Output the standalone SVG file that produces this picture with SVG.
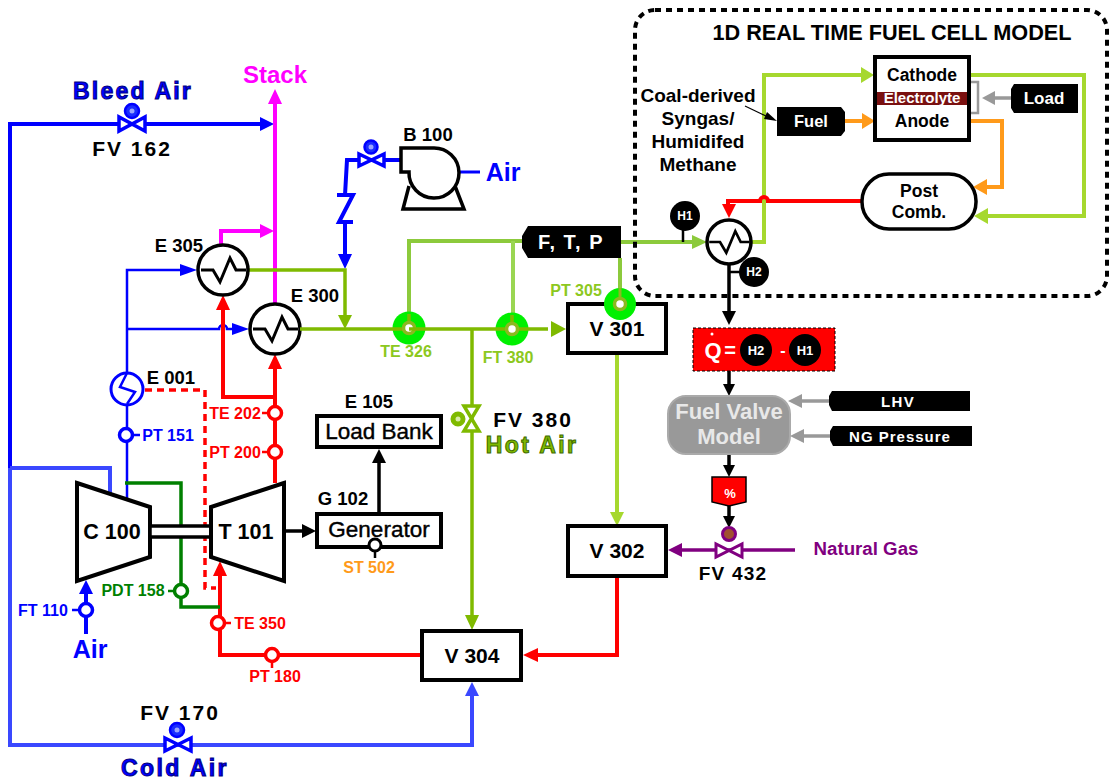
<svg xmlns="http://www.w3.org/2000/svg" width="1109" height="781" viewBox="0 0 1109 781">
<style>
text{font-family:"Liberation Sans",Arial,sans-serif;font-weight:bold;text-anchor:middle}
.ln{fill:none;stroke-linejoin:miter}
.box{fill:#fff;stroke:#000;stroke-width:4}
.hx{fill:#fff;stroke:#000;stroke-width:3.5}
.wave{fill:none;stroke:#000;stroke-width:3}
.b4{stroke:#0000ff;stroke-width:4}
.b3{stroke:#0000ff;stroke-width:2.5}
.lb{stroke:#3a48ff;stroke-width:4}
.m{stroke:#ff00ff;stroke-width:4}
.r{stroke:#ff0000;stroke-width:4}
.ol{stroke:#7fba00;stroke-width:3.5}
.lg{stroke:#8cca3c;stroke-width:4}
.yg{stroke:#a6d82e;stroke-width:4}
.dg{stroke:#008000;stroke-width:3.5}
.k{stroke:#000;stroke-width:3.5}
.o{stroke:#ff9a1a;stroke-width:4}
.g{stroke:#999;stroke-width:3.5}
.p{stroke:#800080;stroke-width:3.5}
.inst{fill:#fff;stroke-width:3.5}
.e{font-size:18.5px;fill:#000}
.i{font-size:16px}
.fv{font-size:21px;fill:#000;letter-spacing:2px}
.v{font-size:21px;fill:#000}
.sb{font-size:22.5px;font-weight:normal;fill:#000;stroke:#000;stroke-width:.4}
.hl{font-size:12px;fill:#fff}
.act{fill:#1a2cff;stroke:#0000ff;stroke-width:2.5}
.smile{fill:#9aa4ff}
.bow{fill:#fff;stroke:#0000ff;stroke-width:3.5}
.grn{fill:#00f000}
.ring{fill:#fff;stroke:#8cb820;stroke-width:3.5}
.air{font-size:25px;fill:#0000ff}
.lab{fill:#0000ff;stroke:#000080;stroke-width:1}
</style>
<defs>
<path id="wv" d="M-22 0H-10L-3 12L7 -12L13 0H23" class="wave"/>
</defs>

<g id="connectors">
<path class="ln b4" d="M10 468V124H262"/>
<path d="M274 124L260 117V131Z" fill="#0000ff"/>
<path class="ln lb" d="M10 468V745H472V694"/>
<path class="ln lb" d="M10 468H110V498"/>
<path d="M472 682L465 696H479Z" fill="#3a48ff"/>
<path class="ln m" d="M275 303V100"/>
<path d="M275 89L268 104H282Z" fill="#ff00ff"/>
<path class="ln m" d="M221 246V231H262"/>
<path d="M274 231L260 224V238Z" fill="#ff00ff"/>
<path class="ln b3" d="M127 500V270H185"/>
<path d="M197 270L180 264V276Z" fill="#0000ff"/>
<path class="ln b3" d="M127 329H219A4 4 0 0 1 227 329H238"/>
<path d="M249 329L232 323V335Z" fill="#0000ff"/>
<path class="ln b4" d="M400 160H347L345 195"/>
<path class="ln b4" d="M337 195H353L339 222H353M345 222V258"/>
<path d="M345 269L338 254H352Z" fill="#0000ff"/>
<path class="ln" stroke="#0000ff" stroke-width="3" d="M458 172H480"/>
<path class="ln ol" d="M248 270H345V318"/>
<path d="M345 329L338 315H352Z" fill="#7fba00"/>
<path class="ln ol" d="M472 329V618"/>
<path d="M472 630L465 615H479Z" fill="#7fba00"/>
<path class="ln lg" d="M409 328V241H522"/>
<path class="ln" stroke="#9ad652" stroke-width="4" d="M513 241V320"/>
<path class="ln lg" stroke-width="3" d="M620 258V300"/>
<path class="ln lg" d="M621 242H695"/>
<path d="M707 242L692 235V249Z" fill="#8cca3c"/>
<path class="ln yg" d="M617 353V516"/>
<path d="M617 526L610 512H624Z" fill="#a6d82e"/>
<path class="ln yg" d="M751 242H764V75H862"/>
<path d="M874 75L861 67V83Z" fill="#a6d82e"/>
<path class="ln yg" d="M970 75H1084V216H986"/>
<path d="M974 216L988 208V224Z" fill="#a6d82e"/>
<path class="ln r" d="M275 483V365"/>
<path d="M275 354L268 369H282Z" fill="#ff0000"/>
<path class="ln r" d="M275 397H223V307"/>
<path d="M223 295L216 310H230Z" fill="#ff0000"/>
<path class="ln r" d="M422 655H220V574"/>
<path d="M220 561L213 576H227Z" fill="#ff0000"/>
<path class="ln r" d="M617 576V655H535"/>
<path d="M523 655L538 648V662Z" fill="#ff0000"/>
<path class="ln r" d="M862 201H768A4 4 0 0 0 760 201H728V210"/>
<path d="M729 218L722 204H736Z" fill="#ff0000"/>
<path class="ln" stroke="#ff0000" stroke-width="3.5" stroke-dasharray="7 5" d="M145 390H205V588H216"/>
<path class="ln dg" d="M125 483H181V607H220"/>
<path class="ln o" d="M845 121H864"/>
<path d="M875 121L862 113V129Z" fill="#ff9a1a"/>
<path class="ln o" d="M970 121H1002V187H985"/>
<path d="M973 187L987 179V195Z" fill="#ff9a1a"/>
<path class="ln" stroke="#999" stroke-width="2.5" d="M971 82H978V113H971"/>
<path class="ln g" d="M1011 98H992"/>
<path d="M982 98L995 91V105Z" fill="#999"/>
<path class="ln g" d="M829 401H800"/>
<path d="M788 401L802 394V408Z" fill="#999"/>
<path class="ln g" d="M830 436H802"/>
<path d="M790 436L804 429V443Z" fill="#999"/>
<path class="ln k" d="M729 264V315"/>
<path d="M729 325L722 311H736Z" fill="#000"/>
<path class="ln k" stroke-width="3" d="M729 371V386"/>
<path d="M729 396L723 384H735Z" fill="#000"/>
<path class="ln k" stroke-width="3" d="M729 455V467"/>
<path d="M729 477L723 465H735Z" fill="#000"/>
<path class="ln k" stroke-width="3" d="M729 505V518"/>
<path d="M729 528L723 516H735Z" fill="#000"/>
<path class="ln" stroke="#000" stroke-width="1.2" d="M745 106L768 117"/>
<path d="M777 121L764 119L767 112Z" fill="#000"/>
<path class="ln k" d="M379 514V460"/>
<path d="M379 449L372 463H386Z" fill="#000"/>
<path class="ln k" d="M284 531H305"/>
<path d="M316 531L302 524V538Z" fill="#000"/>
<path class="ln b4" d="M86 634V592"/>
<path d="M86 580L79 594H93Z" fill="#0000ff"/>
<path class="ln p" d="M795 550H680"/>
<path d="M668 550L682 543V557Z" fill="#800080"/>
<path class="ln" stroke="#000" stroke-width="2.5" d="M683 228V242M729 272H742"/>
</g>

<g id="fuel-cell-frame"><rect x="635" y="10" width="472" height="286" rx="20" fill="none" stroke="#000" stroke-width="4" stroke-dasharray="6 5"/>
<text x="892" y="40" font-size="21.7" fill="#000">1D REAL TIME FUEL CELL MODEL</text></g>

<g id="stack-label"><text x="275" y="83" font-size="24" fill="#ff00ff">Stack</text></g>
<g id="bleed-air"><text class="lab" x="133" y="99" font-size="23" letter-spacing="2.2">Bleed Air</text>
<circle class="act" cx="132" cy="111" r="7"/><circle class="smile" cx="132" cy="111" r="2.5"/>
<path class="bow" d="M119 117V131L145 117V131Z"/>
<text class="fv" x="132" y="156">FV 162</text></g>

<g id="e305"><circle class="hx" cx="223" cy="270" r="25"/><use href="#wv" x="223" y="270"/><text class="e" x="179" y="252">E 305</text></g>
<g id="e300"><circle class="hx" cx="275" cy="329" r="25"/><use href="#wv" x="275" y="329"/><text class="e" x="315" y="302">E 300</text></g>

<g id="fv-blower"><circle class="act" cx="371" cy="147" r="6.5"/><circle class="smile" cx="371" cy="147" r="2.5"/>
<path class="bow" d="M359 154V166L384 154V166Z"/></g>
<g id="b100"><path d="M409 186L403 209H464L455 186" fill="none" stroke="#000" stroke-width="3.5"/>
<path d="M401 148H433A25 25 0 1 1 409 172H401Z" fill="#fff" stroke="#000" stroke-width="3.5"/>
<text class="e" x="428" y="141">B 100</text>
<text class="air" x="503" y="181">Air</text></g>

<g id="e001"><circle cx="127" cy="389" r="16" fill="#fff" stroke="#0000ff" stroke-width="3"/>
<path d="M127 373L120 387L135 392L127 404" fill="none" stroke="#0000ff" stroke-width="2.5"/>
<text class="e" x="171" y="384">E 001</text></g>

<g id="pt151"><circle class="inst" cx="126" cy="435" r="6.5" stroke="#0000ff"/><path d="M133 435H140" stroke="#0000ff" stroke-width="2.5"/><text class="i" x="168" y="441" fill="#0000ff">PT 151</text></g>
<g id="te202"><circle class="inst" cx="275" cy="413" r="6.5" stroke="#ff0000"/><path d="M262 413H268" stroke="#ff0000" stroke-width="2.5"/><text class="i" x="235" y="419" fill="#ff0000">TE 202</text></g>
<g id="pt200"><circle class="inst" cx="275" cy="452" r="6.5" stroke="#ff0000"/><path d="M262 452H268" stroke="#ff0000" stroke-width="2.5"/><text class="i" x="235" y="458" fill="#ff0000">PT 200</text></g>

<g id="c100"><path d="M77 483L150 507V557L77 581Z" class="box"/><text x="112" y="539" font-size="21.5" fill="#000">C 100</text></g>
<g id="shaft"><rect x="150" y="526" width="61" height="11" fill="#fff" stroke="#000" stroke-width="3.5"/></g>
<g id="t101"><path d="M284 483L211 507V557L284 581Z" class="box"/><text x="246" y="539" font-size="21.5" fill="#000">T 101</text></g>

<g id="pdt158"><circle class="inst" cx="181" cy="591" r="6.5" stroke="#008000"/><path d="M168 591H174" stroke="#008000" stroke-width="2.5"/><text class="i" x="133" y="596" fill="#008000">PDT 158</text></g>
<g id="ft110"><circle class="inst" cx="86" cy="610" r="6.5" stroke="#0000ff"/><path d="M72 610H79" stroke="#0000ff" stroke-width="2.5"/><text class="i" x="43" y="616" fill="#0000ff">FT 110</text>
<text class="air" x="90" y="658">Air</text></g>
<g id="te350"><circle class="inst" cx="218" cy="623" r="6.5" stroke="#ff0000"/><path d="M225 623H231" stroke="#ff0000" stroke-width="2.5"/><text class="i" x="260" y="629" fill="#ff0000">TE 350</text></g>
<g id="pt180"><circle class="inst" cx="272" cy="655" r="6.5" stroke="#ff0000"/><path d="M272 662V668" stroke="#ff0000" stroke-width="2.5"/><text class="i" x="275" y="682" fill="#ff0000">PT 180</text></g>

<g id="e105"><rect class="box" x="317" y="416" width="124" height="31"/><text class="sb" x="379" y="439">Load Bank</text><text class="e" x="369" y="408">E 105</text></g>
<g id="g102"><rect class="box" x="317" y="514" width="124" height="33"/><text class="sb" x="379" y="537">Generator</text><text class="e" x="343" y="505">G 102</text>
<circle cx="375" cy="545" r="6" fill="#fff" stroke="#000" stroke-width="3"/><path d="M375 551V558" stroke="#000" stroke-width="2.5"/>
<text class="i" x="369" y="573" fill="#ff9a1a">ST 502</text></g>

<g id="fv380"><circle cx="458" cy="419" r="6" fill="#7fba00" stroke="#7fba00" stroke-width="3"/><circle cx="458" cy="419" r="2.5" fill="#d8ecaa"/>
<path d="M464 406H479L464 431H479Z" fill="#fff" stroke="#7fba00" stroke-width="3.5"/>
<text class="fv" x="533" y="427">FV 380</text>
<text x="532" y="453" font-size="23" fill="#7fba00" stroke="#3f6b00" stroke-width="1" letter-spacing="2.4">Hot Air</text></g>

<g id="fv170"><circle class="act" cx="177" cy="730" r="7"/><circle class="smile" cx="177" cy="730" r="2.5"/>
<path class="bow" d="M165 738V751L191 738V751Z"/>
<text class="fv" x="180" y="720">FV 170</text>
<text class="lab" x="175" y="776" font-size="23" letter-spacing="2.4">Cold Air</text></g>

<g id="te326"><circle class="grn" cx="409" cy="328" r="16.5"/><path d="M300 329H409V314" fill="none" stroke="#7fba00" stroke-width="3.5"/><circle class="ring" cx="409" cy="328" r="5.5"/><text class="i" x="406" y="357" fill="#8cc820">TE 326</text></g>
<g id="ft380"><circle class="grn" cx="512" cy="329" r="16.5"/><path d="M409 329H548M512 329V315" fill="none" stroke="#7fba00" stroke-width="3.5"/><path d="M566 329L551 321V337Z" fill="#7fba00"/><circle class="ring" cx="512" cy="329" r="5.5"/><text class="i" x="508" y="363" fill="#8cc820">FT 380</text></g>
<g id="ftp"><path d="M528 226H621V258H528L522 248V236Z" fill="#000"/><text x="571" y="249" font-size="20" fill="#fff" letter-spacing="1.5">F, T, P</text></g>

<g id="v301"><rect class="box" x="568" y="304" width="98" height="49"/><text class="v" x="617" y="336">V 301</text></g>
<g id="pt305"><circle class="grn" cx="620" cy="304" r="16"/><path d="M620 288V304" stroke="#8cb820" stroke-width="3"/><circle class="ring" cx="620" cy="304" r="5.5"/><text class="i" x="576" y="296" fill="#8cc820">PT 305</text></g>
<g id="v302"><rect class="box" x="568" y="526" width="98" height="50"/><text class="v" x="617" y="558">V 302</text></g>
<g id="v304"><rect class="box" x="422" y="631" width="99" height="49"/><text class="v" x="472" y="663">V 304</text></g>

<g id="cell"><rect class="box" x="875" y="57" width="94" height="83"/>
<rect x="877" y="92" width="90" height="13" fill="#7a1010"/>
<text x="922" y="81" font-size="17.5" fill="#000">Cathode</text>
<text x="922" y="103" font-size="15" fill="#fff">Electrolyte</text>
<text x="922" y="127" font-size="17.5" fill="#000">Anode</text></g>
<g id="load"><path d="M1014 84H1078V113H1014L1011 108V89Z" fill="#000"/><text x="1044" y="104" font-size="17" fill="#fff">Load</text></g>
<g id="fuel"><path d="M777 107H841L845 112V131L841 136H777Z" fill="#000"/><text x="811" y="127" font-size="16.5" fill="#fff">Fuel</text></g>
<g id="post"><rect x="862" y="174" width="114" height="55" rx="27" fill="#fff" stroke="#000" stroke-width="3.5"/>
<text x="919" y="197" font-size="17.5" fill="#000">Post</text><text x="919" y="218" font-size="17.5" fill="#000">Comb.</text></g>
<g id="syngas" fill="#000"><text x="698" y="102" font-size="19">Coal-derived</text><text x="698" y="125" font-size="19">Syngas/</text><text x="698" y="148" font-size="19">Humidifed</text><text x="698" y="171" font-size="19">Methane</text></g>
<g id="fc-hx"><circle class="hx" cx="729" cy="242" r="22"/><use href="#wv" transform="translate(729 242) scale(.9)"/></g>
<g id="h1"><circle cx="685" cy="216" r="15" fill="#000"/><text class="hl" x="685" y="220">H1</text></g>
<g id="h2"><circle cx="754" cy="272" r="15" fill="#000"/><text class="hl" x="754" y="276">H2</text></g>

<g id="q"><rect x="693" y="328" width="142" height="43" fill="#ff0000" stroke="#000" stroke-width="1" stroke-dasharray="3 2"/>
<text x="713" y="358" font-size="22" fill="#fff">Q</text><circle cx="712" cy="334" r="1.5" fill="#fff"/><text x="730" y="357" font-size="20" fill="#fff">=</text>
<circle cx="756" cy="350" r="16" fill="#000"/><text x="756" y="355" font-size="13" fill="#fff">H2</text>
<text x="783" y="356" font-size="16" fill="#fff">-</text>
<circle cx="805" cy="350" r="16" fill="#000"/><text x="805" y="355" font-size="13" fill="#fff">H1</text></g>
<g id="fvm"><rect x="668" y="396" width="122" height="58" rx="18" fill="#999" stroke="#aaa" stroke-width="2"/>
<text x="729" y="419" font-size="22" fill="#e8e8e8">Fuel Valve</text><text x="729" y="444" font-size="22" fill="#e8e8e8">Model</text></g>
<g id="lhv"><path d="M832 391H970V411H832L829 405V396Z" fill="#000"/><text x="898" y="407" font-size="15" fill="#fff" letter-spacing="1.4">LHV</text></g>
<g id="ngp"><path d="M833 426H972V446H833L830 440V431Z" fill="#000"/><text x="900" y="442" font-size="15" fill="#fff" letter-spacing="1">NG Pressure</text></g>
<g id="pct"><path d="M712 477H746V502L729 506L712 502Z" fill="#ff0000" stroke="#000" stroke-width="1.5"/><text x="730" y="498" font-size="13" fill="#fff">%</text></g>
<g id="fv432"><circle cx="729" cy="534" r="6.5" fill="#a05030" stroke="#800080" stroke-width="3"/>
<path d="M716 544V557L742 544V557Z" fill="#fff" stroke="#800080" stroke-width="3"/>
<text x="733" y="580" font-size="19" fill="#000" letter-spacing="1.2">FV 432</text>
<text x="866" y="555" font-size="18.7" fill="#800080">Natural Gas</text></g>
</svg>
